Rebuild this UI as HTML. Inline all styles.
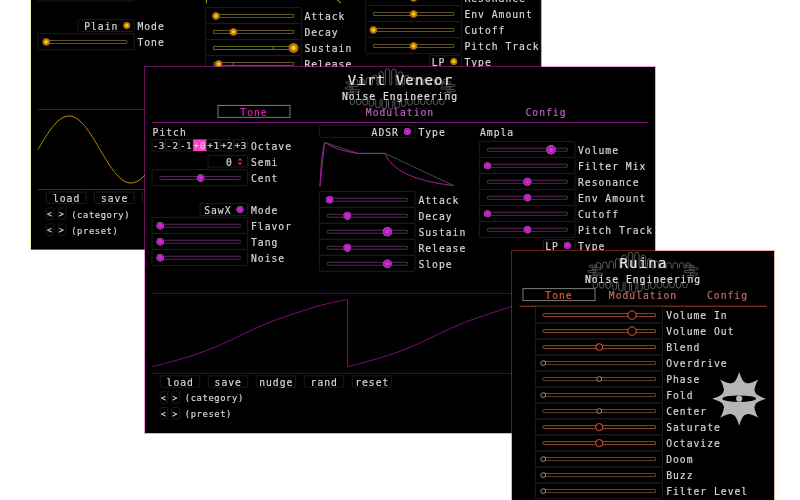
<!DOCTYPE html>
<html><head><meta charset="utf-8"><title>Noise Engineering plugins</title>
<style>
html,body{margin:0;padding:0;background:#fff;width:800px;height:500px;overflow:hidden}
svg{display:block;position:absolute;left:0;top:0}
text{font-family:"DejaVu Sans Mono","Liberation Mono",monospace;white-space:pre;paint-order:stroke;stroke-width:0.18px}
</style></head><body>
<svg width="800" height="500" viewBox="0 0 800 500" style="filter:blur(0.35px)">
<symbol id="logo" overflow="visible"><path d="M-46.70,3.60 L-46.70,1.11 A2.20,2.20 0 0 1 -42.30,1.11 L-42.30,3.60 A1.00,1.00 0 0 0 -40.30,3.60 L-40.30,0.76 A2.20,2.20 0 0 1 -35.90,0.76 L-35.90,3.60 A1.00,1.00 0 0 0 -33.90,3.60 L-33.90,-0.38 A2.20,2.20 0 0 1 -29.50,-0.38 L-29.50,3.60 A1.00,1.00 0 0 0 -27.50,3.60 L-27.50,-2.87 A2.20,2.20 0 0 1 -23.10,-2.87 L-23.10,3.60 A1.00,1.00 0 0 0 -21.10,3.60 L-21.10,-6.45 A2.20,2.20 0 0 1 -16.70,-6.45 L-16.70,3.60 A1.00,1.00 0 0 0 -14.70,3.60 L-14.70,-9.23 A2.20,2.20 0 0 1 -10.30,-9.23 L-10.30,3.60 A1.00,1.00 0 0 0 -8.30,3.60 L-8.30,-9.12 A2.20,2.20 0 0 1 -3.90,-9.12 L-3.90,3.60 A1.00,1.00 0 0 0 -1.90,3.60 L-1.90,-6.22 A2.20,2.20 0 0 1 2.50,-6.22 L2.50,3.60 A1.00,1.00 0 0 0 4.50,3.60 L4.50,-2.67 A2.20,2.20 0 0 1 8.90,-2.67 L8.90,3.60 A1.00,1.00 0 0 0 10.90,3.60 L10.90,-0.27 A2.20,2.20 0 0 1 15.30,-0.27 L15.30,3.60 A1.00,1.00 0 0 0 17.30,3.60 L17.30,0.80 A2.20,2.20 0 0 1 21.70,0.80 L21.70,3.60 A1.00,1.00 0 0 0 23.70,3.60 L23.70,1.12 A2.20,2.20 0 0 1 28.10,1.12 L28.10,3.60 A1.00,1.00 0 0 0 30.10,3.60 L30.10,1.19 A2.20,2.20 0 0 1 34.50,1.19 L34.50,3.60 A1.00,1.00 0 0 0 36.50,3.60 L36.50,1.20 A2.20,2.20 0 0 1 40.90,1.20 L40.90,3.60 A1.00,1.00 0 0 0 42.90,3.60 L42.90,1.20 A2.20,2.20 0 0 1 47.30,1.20 L47.30,3.60 M-49.90,20.00 L-49.90,22.13 A2.20,2.20 0 0 0 -45.50,22.13 L-45.50,20.00 A1.00,1.00 0 0 1 -43.50,20.00 L-43.50,22.27 A2.20,2.20 0 0 0 -39.10,22.27 L-39.10,20.00 A1.00,1.00 0 0 1 -37.10,20.00 L-37.10,22.72 A2.20,2.20 0 0 0 -32.70,22.72 L-32.70,20.00 A1.00,1.00 0 0 1 -30.70,20.00 L-30.70,23.76 A2.20,2.20 0 0 0 -26.30,23.76 L-26.30,20.00 A1.00,1.00 0 0 1 -24.30,20.00 L-24.30,25.32 A2.20,2.20 0 0 0 -19.90,25.32 L-19.90,20.00 A1.00,1.00 0 0 1 -17.90,20.00 L-17.90,26.65 A2.20,2.20 0 0 0 -13.50,26.65 L-13.50,20.00 A1.00,1.00 0 0 1 -11.50,20.00 L-11.50,26.77 A2.20,2.20 0 0 0 -7.10,26.77 L-7.10,20.00 A1.00,1.00 0 0 1 -5.10,20.00 L-5.10,25.57 A2.20,2.20 0 0 0 -0.70,25.57 L-0.70,20.00 A1.00,1.00 0 0 1 1.30,20.00 L1.30,23.98 A2.20,2.20 0 0 0 5.70,23.98 L5.70,20.00 A1.00,1.00 0 0 1 7.70,20.00 L7.70,22.84 A2.20,2.20 0 0 0 12.10,22.84 L12.10,20.00 A1.00,1.00 0 0 1 14.10,20.00 L14.10,22.31 A2.20,2.20 0 0 0 18.50,22.31 L18.50,20.00 A1.00,1.00 0 0 1 20.50,20.00 L20.50,22.14 A2.20,2.20 0 0 0 24.90,22.14 L24.90,20.00 A1.00,1.00 0 0 1 26.90,20.00 L26.90,22.11 A2.20,2.20 0 0 0 31.30,22.11 L31.30,20.00 A1.00,1.00 0 0 1 33.30,20.00 L33.30,22.10 A2.20,2.20 0 0 0 37.70,22.10 L37.70,20.00 A1.00,1.00 0 0 1 39.70,20.00 L39.70,22.10 A2.20,2.20 0 0 0 44.10,22.10 L44.10,20.00" fill="none" stroke="#808080" stroke-width="0.7"/><path d="M-53,1.5 h6 a1,1 0 0 1 0,2 h-6 a1,1 0 0 1 0,-2 z M-50,4.2 h7 a1,1 0 0 1 0,2 h-7 a1,1 0 0 1 0,-2 z M-54,6.8 h6 a1,1 0 0 1 0,2 h-6 a1,1 0 0 1 0,-2 z M-49,9.4 h8 a1,1 0 0 1 0,2 h-8 a1,1 0 0 1 0,-2 z M-52,12 h5 a1,1 0 0 1 0,2 h-5 a1,1 0 0 1 0,-2 z M44,1.5 h6 a1,1 0 0 1 0,2 h-6 a1,1 0 0 1 0,-2 z M47,4.2 h7 a1,1 0 0 1 0,2 h-7 a1,1 0 0 1 0,-2 z M42,6.8 h8 a1,1 0 0 1 0,2 h-8 a1,1 0 0 1 0,-2 z M48,9.4 h6 a1,1 0 0 1 0,2 h-6 a1,1 0 0 1 0,-2 z M45,12 h5 a1,1 0 0 1 0,2 h-5 a1,1 0 0 1 0,-2 z" fill="none" stroke="#7a7a7a" stroke-width="0.6"/></symbol>
<defs>
<radialGradient id="gy"><stop offset="0" stop-color="#ffe400"/><stop offset="0.3" stop-color="#ffc800"/><stop offset="0.52" stop-color="#c88010"/><stop offset="0.85" stop-color="#a06a18"/><stop offset="1" stop-color="#a06a18" stop-opacity="0.4"/></radialGradient>
<radialGradient id="gm"><stop offset="0" stop-color="#ff10ff"/><stop offset="0.36" stop-color="#f410f4"/><stop offset="0.56" stop-color="#a020a8"/><stop offset="0.8" stop-color="#8c3c98"/><stop offset="0.92" stop-color="#9a58a6"/><stop offset="1" stop-color="#9a58a6" stop-opacity="0.3"/></radialGradient>
</defs>
<g id="w1">
<rect x="31" y="-5" width="510.4" height="255" fill="#000"/>
<path d="M30.5 -5 V249.5 H541.3 V-5" fill="none" stroke="#d6d65c" stroke-opacity="0.5" stroke-width="1"/>
<rect x="38.00" y="-15.00" width="96.00" height="16.00" rx="1" fill="none" stroke="#1c1c1c" stroke-width="1"/>
<rect x="78.00" y="19.60" width="56.40" height="11.80" rx="1" fill="none" stroke="#1c1c1c" stroke-width="1"/>
<circle cx="126.80" cy="25.50" r="3.80" fill="url(#gy)"/>
<text x="118.30" y="29.59" fill="#d6d6d6" stroke="#d6d6d6" font-size="9.7" letter-spacing="1.001" text-anchor="end">Plain</text>
<text x="137.40" y="29.59" fill="#d6d6d6" stroke="#d6d6d6" font-size="9.7" letter-spacing="1.001" text-anchor="start">Mode</text>
<rect x="38.00" y="33.60" width="96.40" height="16.00" rx="1" fill="none" stroke="#1c1c1c" stroke-width="1"/>
<rect x="46.00" y="40.45" width="80.90" height="3" rx="0.5" fill="none" stroke="#665a2a" stroke-width="1"/>
<circle cx="46.20" cy="41.95" r="4.00" fill="url(#gy)"/>
<text x="137.40" y="46.04" fill="#d6d6d6" stroke="#d6d6d6" font-size="9.7" letter-spacing="1.001" text-anchor="start">Tone</text>
<line x1="38.00" y1="109.50" x2="150.00" y2="109.50" stroke="#3c2204" stroke-width="1"/>
<polyline points="38.0,149.5 39.0,147.8 40.0,146.1 41.0,144.4 42.0,142.8 43.0,141.1 44.0,139.5 45.0,137.9 46.0,136.3 47.0,134.7 48.0,133.2 49.0,131.8 50.0,130.4 51.0,129.0 52.0,127.7 53.0,126.4 54.0,125.2 55.0,124.1 56.0,123.0 57.0,122.0 58.0,121.1 59.0,120.2 60.0,119.4 61.0,118.7 62.0,118.1 63.0,117.5 64.0,117.1 65.0,116.7 66.0,116.4 67.0,116.2 68.0,116.0 69.0,116.0 70.0,116.0 71.0,116.2 72.0,116.4 73.0,116.7 74.0,117.1 75.0,117.5 76.0,118.1 77.0,118.7 78.0,119.4 79.0,120.2 80.0,121.1 81.0,122.0 82.0,123.0 83.0,124.1 84.0,125.2 85.0,126.4 86.0,127.7 87.0,129.0 88.0,130.4 89.0,131.8 90.0,133.2 91.0,134.7 92.0,136.3 93.0,137.9 94.0,139.5 95.0,141.1 96.0,142.8 97.0,144.4 98.0,146.1 99.0,147.8 100.0,149.5 101.0,151.2 102.0,152.9 103.0,154.6 104.0,156.2 105.0,157.9 106.0,159.5 107.0,161.1 108.0,162.7 109.0,164.3 110.0,165.8 111.0,167.2 112.0,168.6 113.0,170.0 114.0,171.3 115.0,172.6 116.0,173.8 117.0,174.9 118.0,176.0 119.0,177.0 120.0,177.9 121.0,178.8 122.0,179.6 123.0,180.3 124.0,180.9 125.0,181.5 126.0,181.9 127.0,182.3 128.0,182.6 129.0,182.8 130.0,183.0 131.0,183.0 132.0,183.0 133.0,182.8 134.0,182.6 135.0,182.3 136.0,181.9 137.0,181.5 138.0,180.9 139.0,180.3 140.0,179.6 141.0,178.8 142.0,177.9 143.0,177.0 144.0,176.0 145.0,174.9 146.0,173.8 147.0,172.6" fill="none" stroke="#b88a00" stroke-width="1"/>
<line x1="38.00" y1="189.50" x2="150.00" y2="189.50" stroke="#4c2c04" stroke-width="1"/>
<rect x="46.25" y="192.00" width="40.00" height="11.40" rx="1" fill="none" stroke="#1c1c1c" stroke-width="1"/>
<text x="66.55" y="201.99" fill="#d6d6d6" stroke="#d6d6d6" font-size="9.7" letter-spacing="1.001" text-anchor="middle">load</text>
<rect x="94.25" y="192.00" width="40.00" height="11.40" rx="1" fill="none" stroke="#1c1c1c" stroke-width="1"/>
<text x="114.55" y="201.99" fill="#d6d6d6" stroke="#d6d6d6" font-size="9.7" letter-spacing="1.001" text-anchor="middle">save</text>
<rect x="142.25" y="192.00" width="40.00" height="11.40" rx="1" fill="none" stroke="#1c1c1c" stroke-width="1"/>
<rect x="46.25" y="208.00" width="7.60" height="11.40" rx="1" fill="none" stroke="#1c1c1c" stroke-width="1"/>
<text x="50.35" y="217.37" fill="#d6d6d6" stroke="#d6d6d6" font-size="8" letter-spacing="2.024" text-anchor="middle">&lt;</text>
<rect x="58.25" y="208.00" width="7.60" height="11.40" rx="1" fill="none" stroke="#1c1c1c" stroke-width="1"/>
<text x="62.35" y="217.37" fill="#d6d6d6" stroke="#d6d6d6" font-size="8" letter-spacing="2.024" text-anchor="middle">&gt;</text>
<text x="71.20" y="217.66" fill="#d6d6d6" stroke="#d6d6d6" font-size="8.8" letter-spacing="0.602" text-anchor="start">(category)</text>
<rect x="46.25" y="224.00" width="7.60" height="11.40" rx="1" fill="none" stroke="#1c1c1c" stroke-width="1"/>
<text x="50.35" y="233.37" fill="#d6d6d6" stroke="#d6d6d6" font-size="8" letter-spacing="2.024" text-anchor="middle">&lt;</text>
<rect x="58.25" y="224.00" width="7.60" height="11.40" rx="1" fill="none" stroke="#1c1c1c" stroke-width="1"/>
<text x="62.35" y="233.37" fill="#d6d6d6" stroke="#d6d6d6" font-size="8" letter-spacing="2.024" text-anchor="middle">&gt;</text>
<text x="71.20" y="233.66" fill="#d6d6d6" stroke="#d6d6d6" font-size="8.8" letter-spacing="0.602" text-anchor="start">(preset)</text>
<rect x="205.40" y="7.60" width="96.00" height="16.00" rx="1" fill="none" stroke="#1c1c1c" stroke-width="1"/>
<rect x="213.40" y="14.45" width="80.50" height="3" rx="0.5" fill="none" stroke="#665a2a" stroke-width="1"/>
<circle cx="216.00" cy="15.95" r="4.00" fill="url(#gy)"/>
<text x="304.40" y="20.04" fill="#d6d6d6" stroke="#d6d6d6" font-size="9.7" letter-spacing="1.001" text-anchor="start">Attack</text>
<rect x="205.40" y="23.60" width="96.00" height="16.00" rx="1" fill="none" stroke="#1c1c1c" stroke-width="1"/>
<rect x="213.40" y="30.45" width="80.50" height="3" rx="0.5" fill="none" stroke="#665a2a" stroke-width="1"/>
<circle cx="233.40" cy="31.95" r="4.00" fill="url(#gy)"/>
<text x="304.40" y="36.04" fill="#d6d6d6" stroke="#d6d6d6" font-size="9.7" letter-spacing="1.001" text-anchor="start">Decay</text>
<rect x="205.40" y="39.60" width="96.00" height="16.00" rx="1" fill="none" stroke="#1c1c1c" stroke-width="1"/>
<rect x="213.40" y="46.45" width="80.50" height="3" rx="0.5" fill="none" stroke="#6a6a18" stroke-width="1"/>
<line x1="273.40" y1="46.45" x2="273.40" y2="49.45" stroke="#b06010" stroke-width="1"/>
<circle cx="293.60" cy="47.95" r="5.20" fill="url(#gy)"/>
<text x="304.40" y="52.04" fill="#d6d6d6" stroke="#d6d6d6" font-size="9.7" letter-spacing="1.001" text-anchor="start">Sustain</text>
<rect x="205.40" y="55.60" width="96.00" height="16.00" rx="1" fill="none" stroke="#1c1c1c" stroke-width="1"/>
<rect x="213.40" y="62.45" width="80.50" height="3" rx="0.5" fill="none" stroke="#665a2a" stroke-width="1"/>
<line x1="233.40" y1="62.45" x2="233.40" y2="65.45" stroke="#b06010" stroke-width="1"/>
<circle cx="218.60" cy="63.95" r="4.00" fill="url(#gy)"/>
<text x="304.40" y="68.04" fill="#d6d6d6" stroke="#d6d6d6" font-size="9.7" letter-spacing="1.001" text-anchor="start">Release</text>
<line x1="206.40" y1="0.00" x2="206.40" y2="3.20" stroke="#a8b820" stroke-width="1"/>
<line x1="336.50" y1="-0.50" x2="341.00" y2="3.00" stroke="#a8b820" stroke-width="1"/>
<rect x="365.40" y="-10.40" width="96.00" height="16.00" rx="1" fill="none" stroke="#1c1c1c" stroke-width="1"/>
<rect x="373.40" y="-3.55" width="80.50" height="3" rx="0.5" fill="none" stroke="#665a2a" stroke-width="1"/>
<circle cx="413.60" cy="-2.05" r="4.00" fill="url(#gy)"/>
<text x="464.40" y="2.04" fill="#d6d6d6" stroke="#d6d6d6" font-size="9.7" letter-spacing="1.001" text-anchor="start">Resonance</text>
<rect x="365.40" y="5.60" width="96.00" height="16.00" rx="1" fill="none" stroke="#1c1c1c" stroke-width="1"/>
<rect x="373.40" y="12.45" width="80.50" height="3" rx="0.5" fill="none" stroke="#665a2a" stroke-width="1"/>
<circle cx="413.60" cy="13.95" r="4.00" fill="url(#gy)"/>
<text x="464.40" y="18.04" fill="#d6d6d6" stroke="#d6d6d6" font-size="9.7" letter-spacing="1.001" text-anchor="start">Env Amount</text>
<rect x="365.40" y="21.60" width="96.00" height="16.00" rx="1" fill="none" stroke="#1c1c1c" stroke-width="1"/>
<rect x="373.40" y="28.45" width="80.50" height="3" rx="0.5" fill="none" stroke="#665a2a" stroke-width="1"/>
<circle cx="373.40" cy="29.95" r="4.00" fill="url(#gy)"/>
<text x="464.40" y="34.04" fill="#d6d6d6" stroke="#d6d6d6" font-size="9.7" letter-spacing="1.001" text-anchor="start">Cutoff</text>
<rect x="365.40" y="37.60" width="96.00" height="16.00" rx="1" fill="none" stroke="#1c1c1c" stroke-width="1"/>
<rect x="373.40" y="44.45" width="80.50" height="3" rx="0.5" fill="none" stroke="#665a2a" stroke-width="1"/>
<circle cx="413.60" cy="45.95" r="4.00" fill="url(#gy)"/>
<text x="464.40" y="50.04" fill="#d6d6d6" stroke="#d6d6d6" font-size="9.7" letter-spacing="1.001" text-anchor="start">Pitch Track</text>
<rect x="429.40" y="55.60" width="32.00" height="11.80" rx="1" fill="none" stroke="#1c1c1c" stroke-width="1"/>
<circle cx="453.80" cy="61.50" r="3.80" fill="url(#gy)"/>
<text x="445.30" y="65.59" fill="#d6d6d6" stroke="#d6d6d6" font-size="9.7" letter-spacing="1.001" text-anchor="end">LP</text>
<text x="464.40" y="65.59" fill="#d6d6d6" stroke="#d6d6d6" font-size="9.7" letter-spacing="1.001" text-anchor="start">Type</text>
</g>
<g id="w2">
<rect x="145" y="67" width="510" height="366" fill="#000"/>
<rect x="144.5" y="66.5" width="511" height="367" fill="none" stroke="#dc28bc" stroke-opacity="0.45" stroke-width="1"/>
<use href="#logo" x="400" y="80.3"/>
<text x="400.50" y="84.70" fill="#e4e4e4" stroke="#e4e4e4" font-size="14" letter-spacing="1.172" text-anchor="middle">Virt Veneor</text>
<text x="400.00" y="100.29" fill="#e0e0e0" stroke="#e0e0e0" font-size="9.7" letter-spacing="1.001" text-anchor="middle">Noise Engineering</text>
<rect x="218.00" y="105.40" width="72.00" height="12.00" rx="0" fill="none" stroke="#7c7c7c" stroke-width="1"/>
<text x="254.00" y="115.69" fill="#e81cb4" stroke="#e81cb4" font-size="9.7" letter-spacing="1.001" text-anchor="middle">Tone</text>
<text x="400.00" y="115.69" fill="#c060c0" stroke="#c060c0" font-size="9.7" letter-spacing="1.001" text-anchor="middle">Modulation</text>
<text x="546.00" y="115.69" fill="#c060c0" stroke="#c060c0" font-size="9.7" letter-spacing="1.001" text-anchor="middle">Config</text>
<line x1="152.00" y1="122.50" x2="648.00" y2="122.50" stroke="#801680" stroke-width="1"/>
<text x="152.60" y="135.69" fill="#d6d6d6" stroke="#d6d6d6" font-size="9.7" letter-spacing="1.001" text-anchor="start">Pitch</text>
<rect x="152.00" y="139.60" width="13.66" height="11.40" rx="1" fill="none" stroke="#1c1c1c" stroke-width="1"/>
<text x="158.83" y="149.48" fill="#d6d6d6" stroke="#d6d6d6" font-size="9.4" letter-spacing="0.541" text-anchor="middle">-3</text>
<rect x="165.66" y="139.60" width="13.66" height="11.40" rx="1" fill="none" stroke="#1c1c1c" stroke-width="1"/>
<text x="172.49" y="149.48" fill="#d6d6d6" stroke="#d6d6d6" font-size="9.4" letter-spacing="0.541" text-anchor="middle">-2</text>
<rect x="179.31" y="139.60" width="13.66" height="11.40" rx="1" fill="none" stroke="#1c1c1c" stroke-width="1"/>
<text x="186.14" y="149.48" fill="#d6d6d6" stroke="#d6d6d6" font-size="9.4" letter-spacing="0.541" text-anchor="middle">-1</text>
<rect x="193.17" y="139.4" width="13.66" height="11.8" fill="#ff40c8"/>
<text x="199.80" y="149.48" fill="#ecc0e0" stroke="#ecc0e0" font-size="9.4" letter-spacing="0.541" text-anchor="middle">+0</text>
<rect x="206.63" y="139.60" width="13.66" height="11.40" rx="1" fill="none" stroke="#1c1c1c" stroke-width="1"/>
<text x="213.46" y="149.48" fill="#d6d6d6" stroke="#d6d6d6" font-size="9.4" letter-spacing="0.541" text-anchor="middle">+1</text>
<rect x="220.29" y="139.60" width="13.66" height="11.40" rx="1" fill="none" stroke="#1c1c1c" stroke-width="1"/>
<text x="227.11" y="149.48" fill="#d6d6d6" stroke="#d6d6d6" font-size="9.4" letter-spacing="0.541" text-anchor="middle">+2</text>
<rect x="233.94" y="139.60" width="13.66" height="11.40" rx="1" fill="none" stroke="#1c1c1c" stroke-width="1"/>
<text x="240.77" y="149.48" fill="#d6d6d6" stroke="#d6d6d6" font-size="9.4" letter-spacing="0.541" text-anchor="middle">+3</text>
<text x="251.00" y="149.69" fill="#d6d6d6" stroke="#d6d6d6" font-size="9.7" letter-spacing="1.001" text-anchor="start">Octave</text>
<rect x="208.00" y="155.60" width="39.60" height="11.40" rx="1" fill="none" stroke="#1c1c1c" stroke-width="1"/>
<text x="226.00" y="165.59" fill="#d6d6d6" stroke="#d6d6d6" font-size="9.7" letter-spacing="1.001" text-anchor="start">0</text>
<path d="M237.6 160.6 L240 158 L242.4 160.6 Z M237.6 162.6 L240 165.2 L242.4 162.6 Z" fill="#cc2280"/>
<text x="251.00" y="165.69" fill="#d6d6d6" stroke="#d6d6d6" font-size="9.7" letter-spacing="1.001" text-anchor="start">Semi</text>
<rect x="152.00" y="169.60" width="95.60" height="16.00" rx="1" fill="none" stroke="#1c1c1c" stroke-width="1"/>
<rect x="160.00" y="176.45" width="80.10" height="3" rx="0.5" fill="none" stroke="#54285a" stroke-width="1"/>
<circle cx="200.60" cy="177.95" r="4.00" fill="url(#gm)"/>
<text x="251.00" y="182.04" fill="#d6d6d6" stroke="#d6d6d6" font-size="9.7" letter-spacing="1.001" text-anchor="start">Cent</text>
<rect x="200.00" y="203.60" width="47.60" height="11.80" rx="1" fill="none" stroke="#1c1c1c" stroke-width="1"/>
<circle cx="240.00" cy="209.50" r="3.80" fill="url(#gm)"/>
<text x="231.50" y="213.59" fill="#d6d6d6" stroke="#d6d6d6" font-size="9.7" letter-spacing="1.001" text-anchor="end">SawX</text>
<text x="251.00" y="213.69" fill="#d6d6d6" stroke="#d6d6d6" font-size="9.7" letter-spacing="1.001" text-anchor="start">Mode</text>
<rect x="152.00" y="217.40" width="95.60" height="16.00" rx="1" fill="none" stroke="#1c1c1c" stroke-width="1"/>
<rect x="160.00" y="224.25" width="80.10" height="3" rx="0.5" fill="none" stroke="#54285a" stroke-width="1"/>
<circle cx="160.20" cy="225.75" r="4.00" fill="url(#gm)"/>
<text x="251.00" y="229.84" fill="#d6d6d6" stroke="#d6d6d6" font-size="9.7" letter-spacing="1.001" text-anchor="start">Flavor</text>
<rect x="152.00" y="233.40" width="95.60" height="16.00" rx="1" fill="none" stroke="#1c1c1c" stroke-width="1"/>
<rect x="160.00" y="240.25" width="80.10" height="3" rx="0.5" fill="none" stroke="#54285a" stroke-width="1"/>
<circle cx="160.20" cy="241.75" r="4.00" fill="url(#gm)"/>
<text x="251.00" y="245.84" fill="#d6d6d6" stroke="#d6d6d6" font-size="9.7" letter-spacing="1.001" text-anchor="start">Tang</text>
<rect x="152.00" y="249.40" width="95.60" height="16.00" rx="1" fill="none" stroke="#1c1c1c" stroke-width="1"/>
<rect x="160.00" y="256.25" width="80.10" height="3" rx="0.5" fill="none" stroke="#54285a" stroke-width="1"/>
<circle cx="160.20" cy="257.75" r="4.00" fill="url(#gm)"/>
<text x="251.00" y="261.84" fill="#d6d6d6" stroke="#d6d6d6" font-size="9.7" letter-spacing="1.001" text-anchor="start">Noise</text>
<rect x="319.40" y="125.60" width="95.60" height="11.80" rx="1" fill="none" stroke="#1c1c1c" stroke-width="1"/>
<circle cx="407.40" cy="131.50" r="3.80" fill="url(#gm)"/>
<text x="398.90" y="135.59" fill="#d6d6d6" stroke="#d6d6d6" font-size="9.7" letter-spacing="1.001" text-anchor="end">ADSR</text>
<text x="418.40" y="135.69" fill="#d6d6d6" stroke="#d6d6d6" font-size="9.7" letter-spacing="1.001" text-anchor="start">Type</text>
<polyline points="320,186.6 324.6,142.4 358,153.4 385,153.4 453.6,185.6" fill="none" stroke="#5a5a5a" stroke-width="0.8"/>
<path d="M320,186.6 Q320.6,160 324.6,142.4 Q336,150.5 358,153.4 L385,153.4 Q395,179 453.6,185.6" fill="none" stroke="#b0189c" stroke-width="1"/>
<rect x="319.40" y="191.40" width="95.60" height="16.00" rx="1" fill="none" stroke="#1c1c1c" stroke-width="1"/>
<rect x="327.40" y="198.25" width="80.10" height="3" rx="0.5" fill="none" stroke="#54285a" stroke-width="1"/>
<circle cx="329.60" cy="199.75" r="4.00" fill="url(#gm)"/>
<text x="418.40" y="203.84" fill="#d6d6d6" stroke="#d6d6d6" font-size="9.7" letter-spacing="1.001" text-anchor="start">Attack</text>
<rect x="319.40" y="207.40" width="95.60" height="16.00" rx="1" fill="none" stroke="#1c1c1c" stroke-width="1"/>
<rect x="327.40" y="214.25" width="80.10" height="3" rx="0.5" fill="none" stroke="#54285a" stroke-width="1"/>
<circle cx="347.40" cy="215.75" r="4.20" fill="url(#gm)"/>
<text x="418.40" y="219.84" fill="#d6d6d6" stroke="#d6d6d6" font-size="9.7" letter-spacing="1.001" text-anchor="start">Decay</text>
<rect x="319.40" y="223.40" width="95.60" height="16.00" rx="1" fill="none" stroke="#1c1c1c" stroke-width="1"/>
<rect x="327.40" y="230.25" width="80.10" height="3" rx="0.5" fill="none" stroke="#54285a" stroke-width="1"/>
<circle cx="387.40" cy="231.75" r="5.00" fill="url(#gm)"/>
<text x="418.40" y="235.84" fill="#d6d6d6" stroke="#d6d6d6" font-size="9.7" letter-spacing="1.001" text-anchor="start">Sustain</text>
<rect x="319.40" y="239.40" width="95.60" height="16.00" rx="1" fill="none" stroke="#1c1c1c" stroke-width="1"/>
<rect x="327.40" y="246.25" width="80.10" height="3" rx="0.5" fill="none" stroke="#54285a" stroke-width="1"/>
<circle cx="347.40" cy="247.75" r="4.20" fill="url(#gm)"/>
<text x="418.40" y="251.84" fill="#d6d6d6" stroke="#d6d6d6" font-size="9.7" letter-spacing="1.001" text-anchor="start">Release</text>
<rect x="319.40" y="255.40" width="95.60" height="16.00" rx="1" fill="none" stroke="#1c1c1c" stroke-width="1"/>
<rect x="327.40" y="262.25" width="80.10" height="3" rx="0.5" fill="none" stroke="#54285a" stroke-width="1"/>
<circle cx="387.40" cy="263.75" r="4.60" fill="url(#gm)"/>
<text x="418.40" y="267.84" fill="#d6d6d6" stroke="#d6d6d6" font-size="9.7" letter-spacing="1.001" text-anchor="start">Slope</text>
<text x="480.00" y="135.89" fill="#d6d6d6" stroke="#d6d6d6" font-size="9.7" letter-spacing="1.001" text-anchor="start">Ampla</text>
<rect x="479.40" y="141.40" width="95.60" height="16.00" rx="1" fill="none" stroke="#1c1c1c" stroke-width="1"/>
<rect x="487.40" y="148.25" width="80.10" height="3" rx="0.5" fill="none" stroke="#54285a" stroke-width="1"/>
<circle cx="551.00" cy="149.75" r="5.00" fill="url(#gm)"/>
<text x="578.00" y="153.84" fill="#d6d6d6" stroke="#d6d6d6" font-size="9.7" letter-spacing="1.001" text-anchor="start">Volume</text>
<rect x="479.40" y="157.40" width="95.60" height="16.00" rx="1" fill="none" stroke="#1c1c1c" stroke-width="1"/>
<rect x="487.40" y="164.25" width="80.10" height="3" rx="0.5" fill="none" stroke="#54285a" stroke-width="1"/>
<circle cx="487.40" cy="165.75" r="3.80" fill="url(#gm)"/>
<text x="578.00" y="169.84" fill="#d6d6d6" stroke="#d6d6d6" font-size="9.7" letter-spacing="1.001" text-anchor="start">Filter Mix</text>
<rect x="479.40" y="173.40" width="95.60" height="16.00" rx="1" fill="none" stroke="#1c1c1c" stroke-width="1"/>
<rect x="487.40" y="180.25" width="80.10" height="3" rx="0.5" fill="none" stroke="#54285a" stroke-width="1"/>
<circle cx="527.40" cy="181.75" r="4.40" fill="url(#gm)"/>
<text x="578.00" y="185.84" fill="#d6d6d6" stroke="#d6d6d6" font-size="9.7" letter-spacing="1.001" text-anchor="start">Resonance</text>
<rect x="479.40" y="189.40" width="95.60" height="16.00" rx="1" fill="none" stroke="#1c1c1c" stroke-width="1"/>
<rect x="487.40" y="196.25" width="80.10" height="3" rx="0.5" fill="none" stroke="#54285a" stroke-width="1"/>
<circle cx="527.40" cy="197.75" r="4.00" fill="url(#gm)"/>
<text x="578.00" y="201.84" fill="#d6d6d6" stroke="#d6d6d6" font-size="9.7" letter-spacing="1.001" text-anchor="start">Env Amount</text>
<rect x="479.40" y="205.40" width="95.60" height="16.00" rx="1" fill="none" stroke="#1c1c1c" stroke-width="1"/>
<rect x="487.40" y="212.25" width="80.10" height="3" rx="0.5" fill="none" stroke="#54285a" stroke-width="1"/>
<circle cx="487.40" cy="213.75" r="3.80" fill="url(#gm)"/>
<text x="578.00" y="217.84" fill="#d6d6d6" stroke="#d6d6d6" font-size="9.7" letter-spacing="1.001" text-anchor="start">Cutoff</text>
<rect x="479.40" y="221.40" width="95.60" height="16.00" rx="1" fill="none" stroke="#1c1c1c" stroke-width="1"/>
<rect x="487.40" y="228.25" width="80.10" height="3" rx="0.5" fill="none" stroke="#54285a" stroke-width="1"/>
<circle cx="527.40" cy="229.75" r="4.00" fill="url(#gm)"/>
<text x="578.00" y="233.84" fill="#d6d6d6" stroke="#d6d6d6" font-size="9.7" letter-spacing="1.001" text-anchor="start">Pitch Track</text>
<rect x="543.40" y="239.60" width="31.60" height="11.80" rx="1" fill="none" stroke="#1c1c1c" stroke-width="1"/>
<circle cx="567.40" cy="245.50" r="3.80" fill="url(#gm)"/>
<text x="558.90" y="249.59" fill="#d6d6d6" stroke="#d6d6d6" font-size="9.7" letter-spacing="1.001" text-anchor="end">LP</text>
<text x="578.00" y="249.69" fill="#d6d6d6" stroke="#d6d6d6" font-size="9.7" letter-spacing="1.001" text-anchor="start">Type</text>
<line x1="152.00" y1="293.30" x2="648.00" y2="293.30" stroke="#470850" stroke-width="1"/>
<line x1="152.00" y1="373.30" x2="648.00" y2="373.30" stroke="#470850" stroke-width="1"/>
<path d="M152.25,366.75 C155.04,366.01 162.04,364.26 169.00,362.30 C175.96,360.34 185.67,357.80 194.00,355.00 C202.33,352.20 210.67,349.04 219.00,345.50 C227.33,341.96 235.67,337.58 244.00,333.75 C252.33,329.92 260.67,325.83 269.00,322.50 C277.33,319.17 285.67,316.54 294.00,313.75 C302.33,310.96 310.67,308.02 319.00,305.75 C327.33,303.48 339.25,301.14 344.00,300.10 C348.75,299.06 346.92,299.60 347.50,299.50 L347.6,366.6 L347.60,366.75 C350.39,366.01 357.39,364.26 364.35,362.30 C371.31,360.34 381.02,357.80 389.35,355.00 C397.68,352.20 406.02,349.04 414.35,345.50 C422.68,341.96 431.02,337.58 439.35,333.75 C447.68,329.92 456.02,325.83 464.35,322.50 C472.68,319.17 481.02,316.54 489.35,313.75 C497.68,310.96 506.02,308.02 514.35,305.75 C522.68,303.48 534.60,301.14 539.35,300.10 C544.10,299.06 542.27,299.60 542.85,299.50" fill="none" stroke="#7e0a80" stroke-width="1"/>
<rect x="160.25" y="375.80" width="39.40" height="11.40" rx="1" fill="none" stroke="#1c1c1c" stroke-width="1"/>
<text x="180.25" y="385.79" fill="#d6d6d6" stroke="#d6d6d6" font-size="9.7" letter-spacing="1.001" text-anchor="middle">load</text>
<rect x="208.25" y="375.80" width="39.40" height="11.40" rx="1" fill="none" stroke="#1c1c1c" stroke-width="1"/>
<text x="228.25" y="385.79" fill="#d6d6d6" stroke="#d6d6d6" font-size="9.7" letter-spacing="1.001" text-anchor="middle">save</text>
<rect x="256.25" y="375.80" width="39.40" height="11.40" rx="1" fill="none" stroke="#1c1c1c" stroke-width="1"/>
<text x="276.25" y="385.79" fill="#d6d6d6" stroke="#d6d6d6" font-size="9.7" letter-spacing="1.001" text-anchor="middle">nudge</text>
<rect x="304.25" y="375.80" width="39.40" height="11.40" rx="1" fill="none" stroke="#1c1c1c" stroke-width="1"/>
<text x="324.25" y="385.79" fill="#d6d6d6" stroke="#d6d6d6" font-size="9.7" letter-spacing="1.001" text-anchor="middle">rand</text>
<rect x="352.25" y="375.80" width="39.40" height="11.40" rx="1" fill="none" stroke="#1c1c1c" stroke-width="1"/>
<text x="372.25" y="385.79" fill="#d6d6d6" stroke="#d6d6d6" font-size="9.7" letter-spacing="1.001" text-anchor="middle">reset</text>
<rect x="160.25" y="391.80" width="7.50" height="11.40" rx="1" fill="none" stroke="#1c1c1c" stroke-width="1"/>
<text x="164.30" y="401.17" fill="#d6d6d6" stroke="#d6d6d6" font-size="8" letter-spacing="2.024" text-anchor="middle">&lt;</text>
<rect x="171.75" y="391.80" width="7.80" height="11.40" rx="1" fill="none" stroke="#1c1c1c" stroke-width="1"/>
<text x="175.95" y="401.17" fill="#d6d6d6" stroke="#d6d6d6" font-size="8" letter-spacing="2.024" text-anchor="middle">&gt;</text>
<text x="184.80" y="401.36" fill="#d6d6d6" stroke="#d6d6d6" font-size="8.8" letter-spacing="0.602" text-anchor="start">(category)</text>
<rect x="160.25" y="407.60" width="7.50" height="11.40" rx="1" fill="none" stroke="#1c1c1c" stroke-width="1"/>
<text x="164.30" y="416.97" fill="#d6d6d6" stroke="#d6d6d6" font-size="8" letter-spacing="2.024" text-anchor="middle">&lt;</text>
<rect x="171.75" y="407.60" width="7.80" height="11.40" rx="1" fill="none" stroke="#1c1c1c" stroke-width="1"/>
<text x="175.95" y="416.97" fill="#d6d6d6" stroke="#d6d6d6" font-size="8" letter-spacing="2.024" text-anchor="middle">&gt;</text>
<text x="184.80" y="417.16" fill="#d6d6d6" stroke="#d6d6d6" font-size="8.8" letter-spacing="0.602" text-anchor="start">(preset)</text>
</g>
<g id="w3">
<rect x="512" y="251" width="262" height="260" fill="#000"/>
<rect x="511.5" y="250.5" width="263" height="260" fill="none" stroke="#d44c2e" stroke-opacity="0.45" stroke-width="1"/>
<use href="#logo" x="643" y="263.6"/>
<text x="643.50" y="268.20" fill="#e4e4e4" stroke="#e4e4e4" font-size="14" letter-spacing="1.172" text-anchor="middle">Ruina</text>
<text x="643.00" y="283.49" fill="#e0e0e0" stroke="#e0e0e0" font-size="9.7" letter-spacing="1.001" text-anchor="middle">Noise Engineering</text>
<rect x="523.00" y="288.60" width="72.00" height="12.00" rx="0" fill="none" stroke="#7c7c7c" stroke-width="1"/>
<text x="559.00" y="299.09" fill="#e45a2a" stroke="#e45a2a" font-size="9.7" letter-spacing="1.001" text-anchor="middle">Tone</text>
<text x="643.00" y="299.09" fill="#c46a6a" stroke="#c46a6a" font-size="9.7" letter-spacing="1.001" text-anchor="middle">Modulation</text>
<text x="727.50" y="299.09" fill="#c46a6a" stroke="#c46a6a" font-size="9.7" letter-spacing="1.001" text-anchor="middle">Config</text>
<line x1="519.40" y1="306.20" x2="767.00" y2="306.20" stroke="#a2421e" stroke-width="1"/>
<rect x="535.50" y="306.80" width="127.00" height="16.00" rx="1" fill="none" stroke="#1c1c1c" stroke-width="1"/>
<rect x="543" y="313.60" width="112.5" height="3" rx="0.5" fill="none" stroke="#9c4420" stroke-width="1"/>
<circle cx="632.00" cy="315.10" r="4.20" fill="#000" stroke="#dc6238" stroke-width="1"/>
<text x="666.20" y="319.19" fill="#d6d6d6" stroke="#d6d6d6" font-size="9.7" letter-spacing="1.001" text-anchor="start">Volume In</text>
<rect x="535.50" y="322.80" width="127.00" height="16.00" rx="1" fill="none" stroke="#1c1c1c" stroke-width="1"/>
<rect x="543" y="329.60" width="112.5" height="3" rx="0.5" fill="none" stroke="#9c4420" stroke-width="1"/>
<circle cx="632.00" cy="331.10" r="4.20" fill="#000" stroke="#dc6238" stroke-width="1"/>
<text x="666.20" y="335.19" fill="#d6d6d6" stroke="#d6d6d6" font-size="9.7" letter-spacing="1.001" text-anchor="start">Volume Out</text>
<rect x="535.50" y="338.80" width="127.00" height="16.00" rx="1" fill="none" stroke="#1c1c1c" stroke-width="1"/>
<rect x="543" y="345.60" width="112.5" height="3" rx="0.5" fill="none" stroke="#9c4420" stroke-width="1"/>
<circle cx="599.25" cy="347.10" r="3.40" fill="#000" stroke="#dc6238" stroke-width="1"/>
<text x="666.20" y="351.19" fill="#d6d6d6" stroke="#d6d6d6" font-size="9.7" letter-spacing="1.001" text-anchor="start">Blend</text>
<rect x="535.50" y="354.80" width="127.00" height="16.00" rx="1" fill="none" stroke="#1c1c1c" stroke-width="1"/>
<rect x="543" y="361.60" width="112.5" height="3" rx="0.5" fill="none" stroke="#6e3e38" stroke-width="1"/>
<circle cx="543.25" cy="363.10" r="2.40" fill="#000" stroke="#c47a6a" stroke-width="1"/>
<text x="666.20" y="367.19" fill="#d6d6d6" stroke="#d6d6d6" font-size="9.7" letter-spacing="1.001" text-anchor="start">Overdrive</text>
<rect x="535.50" y="370.80" width="127.00" height="16.00" rx="1" fill="none" stroke="#1c1c1c" stroke-width="1"/>
<rect x="543" y="377.60" width="112.5" height="3" rx="0.5" fill="none" stroke="#6e3e38" stroke-width="1"/>
<circle cx="599.25" cy="379.10" r="2.40" fill="#000" stroke="#c47a6a" stroke-width="1"/>
<text x="666.20" y="383.19" fill="#d6d6d6" stroke="#d6d6d6" font-size="9.7" letter-spacing="1.001" text-anchor="start">Phase</text>
<rect x="535.50" y="386.80" width="127.00" height="16.00" rx="1" fill="none" stroke="#1c1c1c" stroke-width="1"/>
<rect x="543" y="393.60" width="112.5" height="3" rx="0.5" fill="none" stroke="#6e3e38" stroke-width="1"/>
<circle cx="543.25" cy="395.10" r="2.40" fill="#000" stroke="#c47a6a" stroke-width="1"/>
<text x="666.20" y="399.19" fill="#d6d6d6" stroke="#d6d6d6" font-size="9.7" letter-spacing="1.001" text-anchor="start">Fold</text>
<rect x="535.50" y="402.80" width="127.00" height="16.00" rx="1" fill="none" stroke="#1c1c1c" stroke-width="1"/>
<rect x="543" y="409.60" width="112.5" height="3" rx="0.5" fill="none" stroke="#6e3e38" stroke-width="1"/>
<circle cx="599.25" cy="411.10" r="2.40" fill="#000" stroke="#c47a6a" stroke-width="1"/>
<text x="666.20" y="415.19" fill="#d6d6d6" stroke="#d6d6d6" font-size="9.7" letter-spacing="1.001" text-anchor="start">Center</text>
<rect x="535.50" y="418.80" width="127.00" height="16.00" rx="1" fill="none" stroke="#1c1c1c" stroke-width="1"/>
<rect x="543" y="425.60" width="112.5" height="3" rx="0.5" fill="none" stroke="#9c4420" stroke-width="1"/>
<circle cx="599.25" cy="427.10" r="3.60" fill="#000" stroke="#dc6238" stroke-width="1"/>
<text x="666.20" y="431.19" fill="#d6d6d6" stroke="#d6d6d6" font-size="9.7" letter-spacing="1.001" text-anchor="start">Saturate</text>
<rect x="535.50" y="434.80" width="127.00" height="16.00" rx="1" fill="none" stroke="#1c1c1c" stroke-width="1"/>
<rect x="543" y="441.60" width="112.5" height="3" rx="0.5" fill="none" stroke="#9c4420" stroke-width="1"/>
<circle cx="599.25" cy="443.10" r="3.60" fill="#000" stroke="#dc6238" stroke-width="1"/>
<text x="666.20" y="447.19" fill="#d6d6d6" stroke="#d6d6d6" font-size="9.7" letter-spacing="1.001" text-anchor="start">Octavize</text>
<rect x="535.50" y="450.80" width="127.00" height="16.00" rx="1" fill="none" stroke="#1c1c1c" stroke-width="1"/>
<rect x="543" y="457.60" width="112.5" height="3" rx="0.5" fill="none" stroke="#6e3e38" stroke-width="1"/>
<circle cx="543.25" cy="459.10" r="2.40" fill="#000" stroke="#c47a6a" stroke-width="1"/>
<text x="666.20" y="463.19" fill="#d6d6d6" stroke="#d6d6d6" font-size="9.7" letter-spacing="1.001" text-anchor="start">Doom</text>
<rect x="535.50" y="466.80" width="127.00" height="16.00" rx="1" fill="none" stroke="#1c1c1c" stroke-width="1"/>
<rect x="543" y="473.60" width="112.5" height="3" rx="0.5" fill="none" stroke="#6e3e38" stroke-width="1"/>
<circle cx="543.25" cy="475.10" r="2.40" fill="#000" stroke="#c47a6a" stroke-width="1"/>
<text x="666.20" y="479.19" fill="#d6d6d6" stroke="#d6d6d6" font-size="9.7" letter-spacing="1.001" text-anchor="start">Buzz</text>
<rect x="535.50" y="482.80" width="127.00" height="16.00" rx="1" fill="none" stroke="#1c1c1c" stroke-width="1"/>
<rect x="543" y="489.60" width="112.5" height="3" rx="0.5" fill="none" stroke="#6e3e38" stroke-width="1"/>
<circle cx="543.25" cy="491.10" r="2.40" fill="#000" stroke="#c47a6a" stroke-width="1"/>
<text x="666.20" y="495.19" fill="#d6d6d6" stroke="#d6d6d6" font-size="9.7" letter-spacing="1.001" text-anchor="start">Filter Level</text>
<path d="M754.60,392.79 Q758.59,396.66 766.20,398.70 Q758.59,400.74 754.60,404.61 Z M754.27,405.41 Q754.35,410.97 758.29,417.79 Q751.47,413.85 745.91,413.77 Z M745.11,414.10 Q741.24,418.09 739.20,425.70 Q737.16,418.09 733.29,414.10 Z M732.49,413.77 Q726.93,413.85 720.11,417.79 Q724.05,410.97 724.13,405.41 Z M723.80,404.61 Q719.81,400.74 712.20,398.70 Q719.81,396.66 723.80,392.79 Z M724.13,391.99 Q724.05,386.43 720.11,379.61 Q726.93,383.55 732.49,383.63 Z M733.29,383.30 Q737.16,379.31 739.20,371.70 Q741.24,379.31 745.11,383.30 Z M745.91,383.63 Q751.47,383.55 758.29,379.61 Q754.35,386.43 754.27,391.99 Z " fill="#b6b6b6"/>
<circle cx="739.2" cy="398.7" r="17.3" fill="#b6b6b6"/>
<ellipse cx="739.2" cy="398.7" rx="16.8" ry="3.3" fill="#000"/>
<circle cx="739.2" cy="398.7" r="3.1" fill="#b6b6b6"/>
</g>
</svg>
</body></html>
